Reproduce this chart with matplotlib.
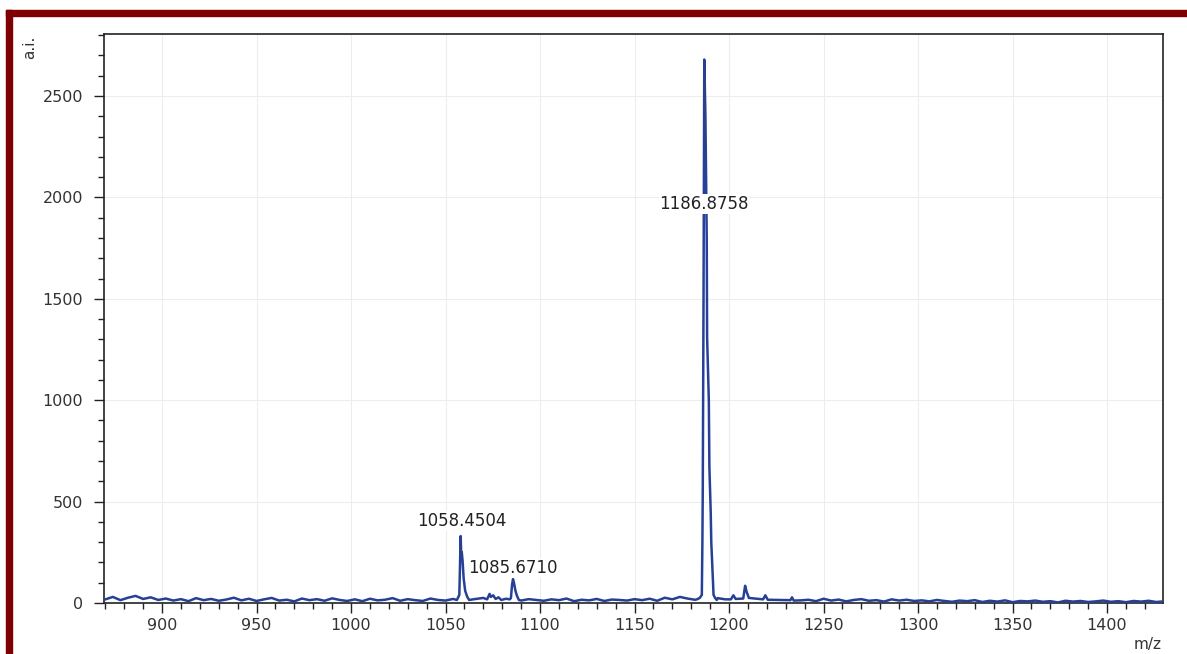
import numpy as np
import matplotlib
matplotlib.use("Agg")
import matplotlib.pyplot as plt
from matplotlib.patches import Rectangle
from matplotlib.ticker import MultipleLocator

# baseline noise, sampled every 4 m/z from 870 to 1430
base_mz = np.arange(870, 1431, 4)
base_int = [18, 30, 14, 26, 35, 20, 28, 15,
            22, 12, 19, 9, 24, 14, 20, 11, 17, 26, 13, 21, 10, 18, 25, 12, 16, 8, 22, 14, 19, 11, 23, 15, 10,
            18, 9, 21, 13, 16, 24, 11, 19, 14, 10, 22, 15, 12, 20,
            17, 13, 20, 25, 18, 14, 21, 16, 12, 19, 15,
            11, 18, 14, 22, 9, 16, 13, 20, 10, 17, 15, 12, 19, 14, 21, 11, 26, 18, 30, 22, 16, 20, 14, 24, 18,
            20, 15, 22, 12, 18, 25, 14, 10, 19, 13, 16, 9, 21, 12, 17, 8, 15, 19, 11, 14, 7, 18, 12, 16, 10,
            13, 8, 15, 10, 6, 12, 9, 14, 5, 11, 7, 13, 4, 10, 8, 12, 6, 9, 3, 11, 7, 10, 5, 8, 12, 6, 9, 4, 10, 7, 11, 5, 8]

# peak profiles (m/z, intensity)
p1058_mz = [1056.0, 1057.3, 1057.7, 1058.0, 1058.3, 1058.6, 1059.0, 1059.6, 1060.4, 1061.5, 1062.5]
p1058_int = [15, 40, 200, 330, 240, 250, 210, 120, 60, 30, 15]

p1075_mz = [1072.0, 1073.3, 1074.0, 1075.2, 1076.5, 1078.0, 1079.5]
p1075_int = [18, 45, 30, 38, 20, 28, 15]

p1085_mz = [1084.0, 1084.6, 1085.2, 1085.7, 1086.3, 1087.0, 1087.8, 1088.8]
p1085_int = [18, 25, 90, 118, 95, 60, 35, 15]

p1187_mz = [1183.0, 1184.5, 1185.6, 1185.9, 1186.1, 1186.5, 1186.9, 1187.5, 1188.2, 1188.4,
            1189.3, 1189.6, 1190.3, 1190.6, 1191.3, 1191.8, 1192.6, 1193.5]
p1187_int = [18, 25, 40, 300, 560, 1500, 2680, 2400, 1800, 1310,
             1000, 670, 450, 300, 150, 40, 25, 15]

p1205_mz = [1201.0, 1202.3, 1203.5, 1207.5, 1208.5, 1209.3, 1210.5, 1218.0, 1219.2, 1220.5, 1232.5, 1233.3, 1234.2]
p1205_int = [18, 38, 20, 22, 85, 55, 25, 18, 38, 16, 14, 28, 12]

labels = ["1058.4504", "1085.6710", "1186.8758"]
label_mz = [1058.4504, 1085.6710, 1186.8758]
label_y = [404, 172, 1967]

# merge the peaks into the baseline
peaks = [(p1058_mz, p1058_int), (p1075_mz, p1075_int), (p1085_mz, p1085_int),
         (p1187_mz, p1187_int), (p1205_mz, p1205_int)]
keep = np.ones(len(base_mz), dtype=bool)
for pm, pi in peaks:
    keep &= ~((base_mz >= min(pm)) & (base_mz <= max(pm)))
mz = [float(m) for m, k in zip(base_mz, keep) if k]
inten = [v for v, k in zip(base_int, keep) if k]
for pm, pi in peaks:
    mz += pm
    inten += pi
order = np.argsort(mz)
mz = np.array(mz)[order]
inten = np.array(inten)[order]

fig = plt.figure(figsize=(11.87, 6.54), dpi=100)
ax = fig.add_axes([104 / 1187, 1 - 603 / 654, 1059 / 1187, 569 / 654])

ax.plot(mz, inten, color="#1f40b0", lw=1.8, zorder=3)
ax.plot(mz, inten, color="#3a4060", lw=0.5, zorder=4)

ax.set_xlim(869.3, 1429.6)
ax.set_ylim(0, 2806)
ax.xaxis.set_major_locator(MultipleLocator(50))
ax.xaxis.set_minor_locator(MultipleLocator(10))
ax.yaxis.set_major_locator(MultipleLocator(500))
ax.yaxis.set_minor_locator(MultipleLocator(100))
ax.tick_params(which="major", length=7, width=1, direction="out", labelsize=11.5,
               colors="#222222", labelcolor="#333333")
ax.tick_params(which="minor", length=4, width=1, direction="out", colors="#222222")
ax.tick_params(axis="x", pad=4)
ax.tick_params(axis="y", pad=8)
ax.grid(True, which="major", color="#ededed", lw=0.8)
ax.set_axisbelow(True)
for s in ax.spines.values():
    s.set_linewidth(1.2)
    s.set_color("#222222")

for t, x, y in zip(labels, label_mz, label_y):
    ax.text(x, y, t, ha="center", va="center", fontsize=12, color="#222222", zorder=5,
            bbox=dict(facecolor="white", edgecolor="none", pad=0.5))

fig.text(30 / 1187, 1 - 47 / 654, "a.i.", rotation=90, ha="center", va="center",
         fontsize=11, color="#333333")
fig.text(1162 / 1187, 1 - 645 / 654, "m/z", ha="right", va="center", fontsize=11, color="#333333")

# dark red frame along the top and left edges
fig.patches.append(Rectangle((6 / 1187, 1 - 16 / 654), 1 - 6 / 1187, 6 / 654,
                             transform=fig.transFigure, color="#7f0000", zorder=10))
fig.patches.append(Rectangle((6 / 1187, 0), 6 / 1187, 1 - 10 / 654,
                             transform=fig.transFigure, color="#7f0000", zorder=10))

fig.savefig("out.png", dpi=100)
